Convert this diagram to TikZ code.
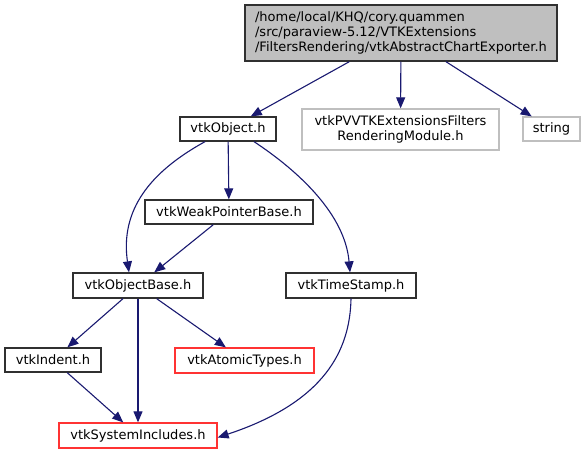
\documentclass[tikz,border=0pt]{standalone}
\usepackage{fontspec}
\setmainfont{DejaVu Sans}
\usetikzlibrary{arrows.meta,calc}
\definecolor{edgeblue}{HTML}{191970}
\definecolor{boxgrey}{HTML}{BFBFBF}
\definecolor{boxred}{HTML}{FF3333}
\definecolor{boxdark}{HTML}{303030}
\begin{document}
\begin{tikzpicture}[x=1pt,y=-1pt,
  box/.style={draw=boxdark,line width=1.3pt,inner sep=0pt,align=center,font=\fontsize{13}{15}\selectfont},
  graybox/.style={box,draw=boxgrey},
  redbox/.style={box,draw=boxred},
  edge/.style={draw=edgeblue,line width=1.1pt,-{Triangle[length=11pt,width=9pt]}}]
\useasboundingbox (0,0) rectangle (588,455);
\node[box,fill=boxgrey,align=left,minimum width=312pt,minimum height=56pt] (top) at (401,33)
  {/home/local/KHQ/cory.quammen\\/src/paraview-5.12/VTKExtensions\\/FiltersRendering/vtkAbstractChartExporter.h};
\node[box,minimum width=96pt,minimum height=24pt] (obj) at (228,129) {vtkObject.h};
\node[graybox,minimum width=197pt,minimum height=41pt] (pv) at (400.5,129.5) {vtkPVVTKExtensionsFilters\\RenderingModule.h};
\node[graybox,minimum width=57pt,minimum height=24pt] (str) at (551.5,129) {string};
\node[box,minimum width=168pt,minimum height=24pt] (weak) at (229,212) {vtkWeakPointerBase.h};
\node[box,minimum width=130pt,minimum height=25pt] (base) at (138,285.5) {vtkObjectBase.h};
\node[box,minimum width=130pt,minimum height=25pt] (ts) at (351,285.5) {vtkTimeStamp.h};
\node[box,minimum width=96pt,minimum height=24pt] (indent) at (53,360) {vtkIndent.h};
\node[redbox,minimum width=139pt,minimum height=25pt] (atomic) at (244.5,360.5) {vtkAtomicTypes.h};
\node[redbox,minimum width=158pt,minimum height=25pt] (sys) at (138,435.5) {vtkSystemIncludes.h};

\draw[edge] (top) -- (obj);
\draw[edge] (top) -- (pv);
\draw[edge] (top) -- (str);
\draw[edge] (obj) -- (weak);
\draw[edge] ([xshift=-23pt]obj.south) .. controls (150,172) and (120,210) .. ([xshift=-9pt]base.north);
\draw[edge] ([xshift=26pt]obj.south) .. controls (300,172) and (345,215) .. ([xshift=-1pt]ts.north);
\draw[edge] (weak) -- (base);
\draw[edge] (base) -- (indent);
\draw[edge] (base) -- (atomic);
\draw[edge] (base) -- (sys);
\draw[edge] (indent) -- (sys);
\draw[edge] (ts.south) .. controls (350,350) and (325,402) .. ([yshift=-2pt]sys.east);
\end{tikzpicture}
\end{document}
